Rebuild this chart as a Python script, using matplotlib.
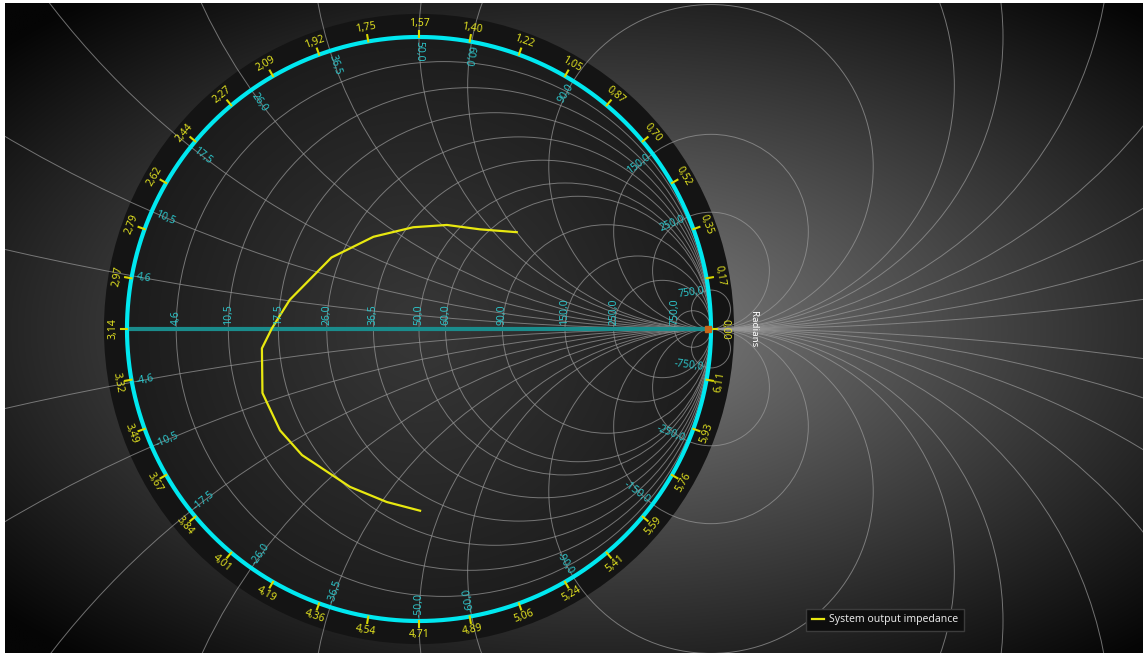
import numpy as np
import matplotlib.pyplot as plt
from matplotlib.patches import Circle

plt.rcParams['font.family'] = ['Noto Sans', 'DejaVu Sans']

# reference impedance (ohm)
z0 = 50.0

# grid values (ohm) - resistance circles and reactance arcs
resistance_grid = [4.6, 10.5, 17.5, 26.0, 36.5, 50.0, 60.0, 90.0, 150.0, 250.0, 750.0]
reactance_grid = [4.6, 10.5, 17.5, 26.0, 36.5, 50.0, 60.0, 90.0, 150.0, 250.0, 750.0,
                  -4.6, -10.5, -17.5, -26.0, -36.5, -50.0, -60.0, -90.0, -150.0, -250.0, -750.0]

# angle scale on the rim (degrees -> labels in radians)
angle_deg = [0, 10, 20, 30, 40, 50, 60, 70, 80, 90, 100, 110, 120, 130, 140, 150, 160, 170,
             180, 190, 200, 210, 220, 230, 240, 250, 260, 270, 280, 290, 300, 310, 320, 330, 340, 350]
angle_labels = ['0,00', '0,17', '0,35', '0,52', '0,70', '0,87', '1,05', '1,22', '1,40', '1,57',
                '1,75', '1,92', '2,09', '2,27', '2,44', '2,62', '2,79', '2,97', '3,14', '3,32',
                '3,49', '3,67', '3,84', '4,01', '4,19', '4,36', '4,54', '4,71', '4,89', '5,06',
                '5,24', '5,41', '5,59', '5,76', '5,93', '6,11']

# System output impedance (ohm)
imp_r = [70.4, 56.6, 45.7, 37.8, 30.5, 24.3, 19.0, 16.5, 14.9, 13.8, 14.2, 15.2, 17.9, 20.1, 22.2]
imp_x = [60.0, 46.0, 37.7, 30.0, 22.0, 14.0, 4.8, 0.1, -2.8, -9.1, -15.1, -20.1, -29.7, -37.4, -45.1]


def fmt(v):
    return f'{v:.1f}'.replace('.', ',')


W, H = 1143, 653
fig = plt.figure(figsize=(W / 100, H / 100), dpi=100, facecolor='white')
ax = fig.add_axes([5 / W, 0, (W - 5) / W, (H - 3) / H])

cx, cy, s = 419, 329, 292.0
x0, x1 = (5 - cx) / s, (W - cx) / s
y0, y1 = (cy - H) / s, (cy - 3) / s
ax.set_xlim(x0, x1)
ax.set_ylim(y0, y1)
ax.axis('off')

# background gradient
px = np.linspace(5, W, 600)
py = np.linspace(3, H, 350)
PX, PY = np.meshgrid(px, py)
d = np.hypot((PX - 600) / 700, (PY - 330) / 380)
v = np.clip(128 - 108 * d, 5, 200) / 255
ax.imshow(np.dstack([v, v, v]), extent=(x0, x1, y0, y1), origin='upper',
          interpolation='bilinear', zorder=0, aspect='auto')

# dark rim
ax.add_patch(Circle((0, 0), 1.079, facecolor='#141414', edgecolor='none', zorder=1))

# chart interior
g = np.linspace(-1, 1, 400)
GX, GY = np.meshgrid(g, g)
r = np.clip(np.hypot(GX, GY), 0, 1)
vi = (56 - 28 * r) / 255
im = ax.imshow(np.dstack([vi, vi, vi]), extent=(-1, 1, -1, 1), origin='lower',
               interpolation='bilinear', zorder=2)
im.set_clip_path(Circle((0, 0), 1.0, transform=ax.transData))

grid_kw = dict(fill=False, edgecolor='#9a9a9a', lw=0.7, alpha=0.7, zorder=3)
for rv in resistance_grid:
    rn = rv / z0
    ax.add_patch(Circle((rn / (1 + rn), 0), 1 / (1 + rn), **grid_kw))
for xv in reactance_grid:
    xn = xv / z0
    ax.add_patch(Circle((1, 1 / xn), 1 / abs(xn), **grid_kw))

# real axis
ax.plot([-1, 1], [0, 0], color='#1a8c8c', lw=3, zorder=4, solid_capstyle='butt')

# rim circle
t = np.linspace(0, 2 * np.pi, 721)
ax.plot(np.cos(t), np.sin(t), color='#00e8f0', lw=3, zorder=5)

# rim ticks and angle labels
for a, lab in zip(angle_deg, angle_labels):
    th = np.radians(a)
    ax.plot([np.cos(th), 1.022 * np.cos(th)], [np.sin(th), 1.022 * np.sin(th)],
            color='#d8d800', lw=1.5, zorder=6)
    rot = a - 90 if a <= 180 else a + 90
    ax.text(1.047 * np.cos(th), 1.047 * np.sin(th), lab, color='#e0e020', fontsize=7.5,
            rotation=rot, ha='center', va='center', rotation_mode='anchor', zorder=8)

ax.text(1.147, 0, 'Radians', color='white', fontsize=7, rotation=-90,
        ha='center', va='center', zorder=8)

# reactance labels on the rim
for xv in reactance_grid:
    xn = xv / z0
    th = np.arctan2(2 * xn, xn ** 2 - 1)
    rot = (np.degrees(th) + 180 + 180) % 360 - 180
    ha = 'left'
    if abs(rot) > 110:
        rot = (rot + 360) % 360 - 180
        ha = 'right'
    ax.text(0.985 * np.cos(th), 0.985 * np.sin(th), fmt(xv), color='#2cc3c8', fontsize=7.5,
            rotation=rot, rotation_mode='anchor', ha=ha, va='center', zorder=8)

# resistance labels along the real axis
for rv in resistance_grid:
    rn = rv / z0
    ax.text((rn - 1) / (rn + 1), 0.012, fmt(rv), color='#2cc3c8', fontsize=7.5,
            rotation=90, ha='center', va='bottom', zorder=8)

# impedance curve
z = (np.array(imp_r) + 1j * np.array(imp_x)) / z0
gam = (z - 1) / (z + 1)
ax.plot(gam.real, gam.imag, color='#e8e810', lw=1.6, zorder=7, label='System output impedance')

ax.plot([0.99], [0], marker='s', ms=5, color='#c8661a', zorder=9)

leg = ax.legend(loc='lower left', bbox_to_anchor=(806 / W, 22 / H), bbox_transform=fig.transFigure,
                frameon=True, facecolor='#0e0e0e', edgecolor='#3c3c3c', labelcolor='#e6e6e6',
                fontsize=7.5, fancybox=False, framealpha=1, handlelength=1.2, handletextpad=0.5,
                borderpad=0.55, borderaxespad=0)

fig.savefig('out.png', dpi=100, facecolor=fig.get_facecolor())
